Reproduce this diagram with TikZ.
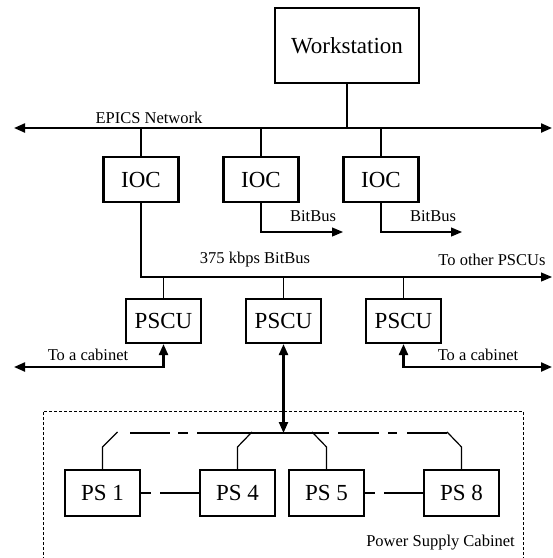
\documentclass[tikz,border=0pt]{standalone}
\usepackage{fontspec}
\setmainfont{Liberation Serif}
\usepackage{tikz}
\usetikzlibrary{arrows.meta, positioning}
\tikzset{
  >={Triangle[length=11pt,width=9pt]},
  unit/.style={draw, line width=2.1pt, inner sep=0pt,
    minimum width=75pt, minimum height=45pt,
    font=\fontsize{23}{26}\selectfont},
  label/.style={font=\fontsize{16.5}{19}\selectfont, inner sep=0pt},
  bus/.style={line width=2.2pt},
  link/.style={line width=1.2pt}
}

\begin{document}
\begin{tikzpicture}[x=1pt, y=-1pt]
    \useasboundingbox (0,0) rectangle (553,558);

    % workstation and EPICS network
    \node[unit, minimum width=144pt, minimum height=75pt] (ws) at (347,45.5) {Workstation};
    \coordinate (netL) at (14,128);
    \coordinate (netR) at (552,128);
    \draw[bus, <->] (netL) -- (netR);
    \draw[bus] (ws) -- (ws |- netL);
    \node[label] (epics) at (149,118) {EPICS Network};

    % IOCs
    \node[unit] (ioc1) at (141,179.5) {IOC};
    \node[unit] (ioc2) at (261,179.5) {IOC};
    \node[unit] (ioc3) at (381,179.5) {IOC};
    \foreach \n in {ioc1, ioc2, ioc3}
      \draw[bus] (\n) -- (\n |- netL);

    \coordinate (bb2) at (343,232);
    \coordinate (bb3) at (462,232);
    \draw[link, ->] (ioc2) |- (bb2);
    \draw[link, ->] (ioc3) |- (bb3);
    \node[label] (bb2-text) at (313,216) {BitBus};
    \node[label] (bb3-text) at (433,216) {BitBus};

    % 375 kbps BitBus
    \coordinate (bitR) at (552,277);
    \draw[link, ->] (ioc1) |- (bitR);
    \node[label] (bit-text) at (255,260) {375 kbps BitBus};
    \node[label] (other-text) at (492,260) {To other PSCUs};

    % PSCUs
    \node[unit, minimum height=44pt] (pscu1) at (163.5,321) {PSCU};
    \node[unit, minimum height=44pt] (pscu2) at (283.5,321) {PSCU};
    \node[unit, minimum height=44pt] (pscu3) at (403.5,321) {PSCU};
    \foreach \n in {pscu1, pscu2, pscu3}
      \draw[link] (\n) -- (\n |- bitR);

    \coordinate (cabL) at (14,367);
    \coordinate (cabR) at (552,367);
    \draw[bus, <->] (cabL) -| (pscu1);
    \draw[bus, <->] (cabR) -| (pscu3);
    \node[label] (cabL-text) at (88,355) {To a cabinet};
    \node[label] (cabR-text) at (478,355) {To a cabinet};

    % power supply cabinet
    \draw[line width=0.8pt, dash pattern=on 3pt off 2pt]
      (43,560) -- (43,411) -- (523,411) -- (523,560);
    \node[label, anchor=east] (cab-text) at (515,543) {Power Supply Cabinet};

    \node[unit, minimum height=46pt] (ps1) at (102.5,493) {PS 1};
    \node[unit, minimum height=46pt] (ps4) at (237.5,493) {PS 4};
    \node[unit, minimum height=46pt] (ps5) at (326.5,493) {PS 5};
    \node[unit, minimum height=46pt] (ps8) at (461.5,493) {PS 8};

    \coordinate (busC) at (283.5,433);
    \draw[bus, <->] (pscu2) -- (busC);
    \foreach \a/\b in {130/170, 178/188, 197/329, 338/379, 388/397, 407/447}
      \draw[bus] (\a,433) -- (\b,433);

    \draw[link] (ps1.north) -- ++(0,-22) -- ++(15,-15);
    \draw[link] (ps4.north) -- ++(0,-22) -- ++(14.5,-15);
    \draw[link] (ps5.north) -- ++(0,-22) -- ++(-14.5,-15);
    \draw[link] (ps8.north) -- ++(0,-22) -- ++(-14.5,-15);

    \draw[bus, dash pattern=on 10pt off 9pt on 60pt] (ps1.east) -- (ps4.west);
    \draw[bus, dash pattern=on 10pt off 9pt on 60pt] (ps5.east) -- (ps8.west);
\end{tikzpicture}
\end{document}
